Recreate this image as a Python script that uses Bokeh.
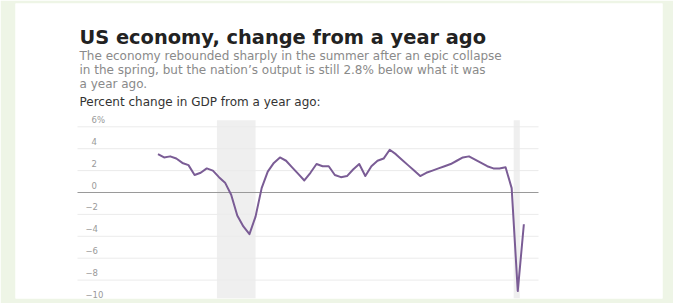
from bokeh.plotting import figure
from bokeh.models import Label, LabelSet, ColumnDataSource, BoxAnnotation, Range1d
from bokeh.core.properties import value
from bokeh.embed import file_html
from bokeh.resources import INLINE

# ---------------- data ----------------
title_text = "US economy, change from a year ago"
subtitle_lines = [
    "The economy rebounded sharply in the summer after an epic collapse",
    "in the spring, but the nation\u2019s output is still 2.8% below what it was",
    "a year ago.",
]
unit_label = "Percent change in GDP from a year ago:"

quarters = [
    "2005-Q3", "2005-Q4",
    "2006-Q1", "2006-Q2", "2006-Q3", "2006-Q4",
    "2007-Q1", "2007-Q2", "2007-Q3", "2007-Q4",
    "2008-Q1", "2008-Q2", "2008-Q3", "2008-Q4",
    "2009-Q1", "2009-Q2", "2009-Q3", "2009-Q4",
    "2010-Q1", "2010-Q2", "2010-Q3", "2010-Q4",
    "2011-Q1", "2011-Q2", "2011-Q3", "2011-Q4",
    "2012-Q1", "2012-Q2", "2012-Q3", "2012-Q4",
    "2013-Q1", "2013-Q2", "2013-Q3", "2013-Q4",
    "2014-Q1", "2014-Q2", "2014-Q3", "2014-Q4",
    "2015-Q1", "2015-Q2", "2015-Q3", "2015-Q4",
    "2016-Q1", "2016-Q2", "2016-Q3", "2016-Q4",
    "2017-Q1", "2017-Q2", "2017-Q3", "2017-Q4",
    "2018-Q1", "2018-Q2", "2018-Q3", "2018-Q4",
    "2019-Q1", "2019-Q2", "2019-Q3", "2019-Q4",
    "2020-Q1", "2020-Q2", "2020-Q3",
]
gdp_change = [
    3.5, 3.2,
    3.3, 3.1, 2.7, 2.5,
    1.6, 1.8, 2.2, 2.0,
    1.4, 0.9, -0.2, -2.1,
    -3.1, -3.8, -2.2, 0.4,
    1.9, 2.7, 3.2, 2.9,
    2.3, 1.7, 1.1, 1.8,
    2.6, 2.4, 2.4, 1.6,
    1.4, 1.5, 2.1, 2.6,
    1.5, 2.4, 2.9, 3.1,
    3.9, 3.5, 3.0, 2.5,
    2.0, 1.5, 1.8, 2.0,
    2.2, 2.4, 2.6, 2.9,
    3.2, 3.3, 3.0, 2.7,
    2.4, 2.2, 2.2, 2.3,
    0.4, -9.0, -2.9,
]

tick_values = [6, 4, 2, 0, -2, -4, -6, -8, -10]
tick_labels = ["6%", "4", "2", "0", "\u22122", "\u22124", "\u22126", "\u22128", "\u221210"]

recession_starts = ["2007-12", "2020-02"]
recession_ends = ["2009-06", "2020-04"]


def quarter_to_year(q):
    y, qq = q.split("-Q")
    return int(y) + (int(qq) - 1) / 4.0


def month_start(m):
    y, mm = m.split("-")
    return int(y) + (int(mm) - 1) / 12.0


def month_end(m):
    y, mm = m.split("-")
    return int(y) + int(mm) / 12.0


xs = [quarter_to_year(q) for q in quarters]

# ---------------- figure ----------------
FONT = "DejaVu Sans"
# chart area (grid extent) inside the white card
chart_x0, chart_x1 = 2002.2, 2021.1
chart_top, chart_bottom = 6.6, -9.68
# full card (frame) ranges
frame_x0, frame_x1 = 1999.658, 2026.184
frame_y0, frame_y1 = -9.68, 17.26

p = figure(width=673, height=303, output_backend="svg", toolbar_location=None,
           x_axis_type=None, y_axis_type=None,
           x_range=Range1d(frame_x0, frame_x1), y_range=Range1d(frame_y0, frame_y1),
           min_border_left=15, min_border_right=11, min_border_top=3,
           min_border_bottom=5)
p.outline_line_color = None
p.border_fill_color = "#eef5e6"
p.background_fill_color = "white"
p.xgrid.visible = False
p.ygrid.visible = False

# recession shading
for s, e in zip(recession_starts, recession_ends):
    p.add_layout(BoxAnnotation(left=month_start(s), right=month_end(e),
                               top=chart_top, bottom=chart_bottom,
                               fill_color="#efefef", fill_alpha=1.0,
                               line_color=None, level="underlay"))

# horizontal grid lines
grid_vals = [v for v in tick_values if v != 0]
p.segment(x0=[chart_x0] * len(grid_vals), x1=[chart_x1] * len(grid_vals),
          y0=grid_vals, y1=grid_vals, line_color="#ebebeb", line_width=1)
# zero line
p.segment(x0=[chart_x0], x1=[chart_x1], y0=[0], y1=[0],
          line_color="#9a9a9a", line_width=1.2)

# tick labels (sit just above their grid lines)
tick_src = ColumnDataSource(dict(
    x=[chart_x0] * len(tick_values),
    y=tick_values,
    text=tick_labels,
    xoff=[14 - (6 if v < 0 else 0) for v in tick_values],
))
p.add_layout(LabelSet(x="x", y="y", text="text", source=tick_src,
                      x_offset="xoff", y_offset=4,
                      text_font=value(FONT), text_font_size="8.5px",
                      text_color="#9a9a9a", text_baseline="alphabetic",
                      text_align="left"))

# data line
p.line(xs, gdp_change, line_color="#7a5c95", line_width=2, line_join="round")

# headline texts
p.add_layout(Label(x=64, y=261, x_units="screen", y_units="screen",
                   text=title_text, text_font=FONT, text_font_size="19.4px",
                   text_font_style="bold", text_color="#222222",
                   text_baseline="alphabetic"))
for i, line in enumerate(subtitle_lines):
    p.add_layout(Label(x=64, y=243 - 14 * i, x_units="screen", y_units="screen",
                       text=line, text_font=FONT, text_font_size="12px",
                       text_color="#8a8a8a", text_baseline="alphabetic"))
p.add_layout(Label(x=64, y=197, x_units="screen", y_units="screen",
                   text=unit_label, text_font=FONT, text_font_size="12px",
                   text_color="#333333", text_baseline="alphabetic"))

open("out.html", "w").write(file_html(p, INLINE))
